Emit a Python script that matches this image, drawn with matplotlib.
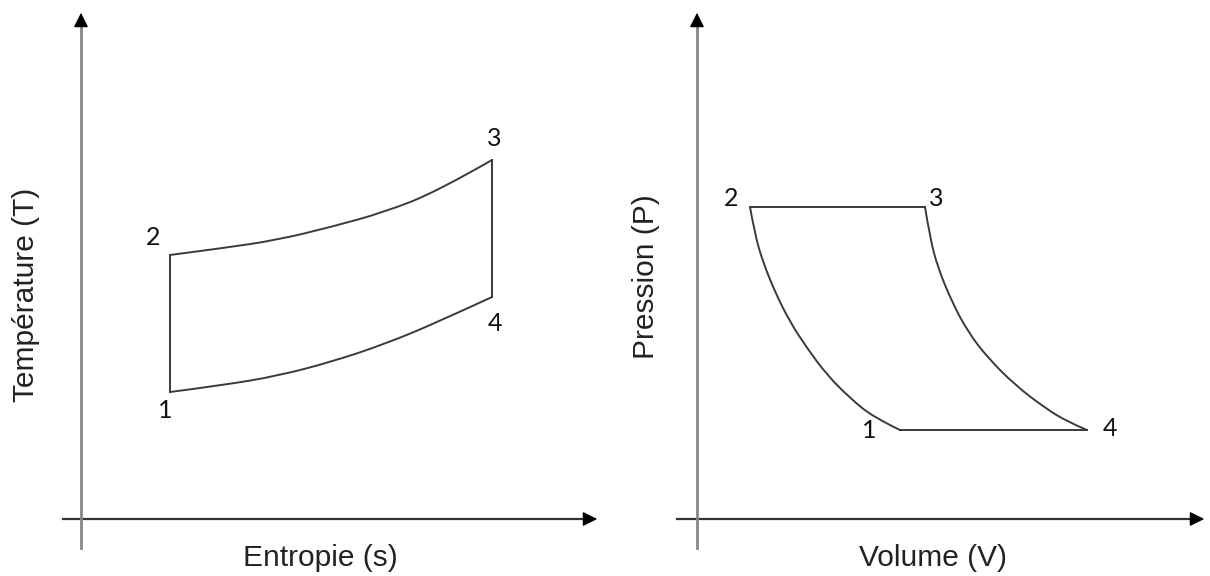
import matplotlib
matplotlib.use("Agg")
import matplotlib.pyplot as plt
from matplotlib.path import Path
from matplotlib.patches import PathPatch

# T-s diagram (arbitrary units)
s_pts = [0.89, 1.43, 1.96, 2.50, 3.04, 3.57, 4.11]
T_top = [2.64, 2.71, 2.79, 2.92, 3.07, 3.28, 3.59]   # 2 -> 3
T_bot = [1.27, 1.34, 1.43, 1.57, 1.75, 1.97, 2.22]   # 1 -> 4

# P-V diagram
V_21 = [0.53, 0.58, 0.66, 0.78, 0.93, 1.10, 1.30, 1.53, 1.76, 2.03]
P_21 = [3.12, 2.84, 2.57, 2.27, 1.97, 1.71, 1.44, 1.21, 1.02, 0.89]
V_34 = [2.28, 2.33, 2.41, 2.55, 2.71, 2.91, 3.18, 3.48, 3.71, 3.90]
P_34 = [3.12, 2.81, 2.51, 2.17, 1.87, 1.61, 1.34, 1.11, 0.97, 0.89]

point_names = ["1", "2", "3", "4"]
ts_label_pos = [(0.84, 1.08), (0.72, 2.82), (4.13, 3.81), (4.14, 1.96)]
pv_label_pos = [(1.72, 0.88), (0.34, 3.21), (2.39, 3.21), (4.13, 0.90)]

line_col = '#3a3a3a'
num_font = 'Lato'
lab_font = 'Liberation Sans'

fig = plt.figure(figsize=(12.1, 5.76), dpi=100)
fig.patch.set_facecolor('white')

ax1 = fig.add_axes([0, 0, 0.5, 1])
ax2 = fig.add_axes([0.5, 0, 0.5, 1])
ax1.set_xlim(-0.81, 5.24)
ax2.set_xlim(-0.92, 5.13)
for ax in (ax1, ax2):
    ax.set_ylim(-0.57, 5.19)
    ax.axis('off')


def draw_axes(ax, xmin, xtip, ymin, ytip):
    ax.plot([xmin, xtip - 0.1], [0, 0], color='#333333', lw=1.6, clip_on=False)
    ax.plot([0, 0], [ymin, ytip - 0.1], color='#888888', lw=2.0, clip_on=False)
    ax.annotate('', xy=(xtip, 0), xytext=(xtip - 0.14, 0),
                arrowprops=dict(arrowstyle='-|>', color='black', lw=1.0, mutation_scale=22),
                annotation_clip=False)
    ax.annotate('', xy=(0, ytip), xytext=(0, ytip - 0.14),
                arrowprops=dict(arrowstyle='-|>', color='black', lw=1.0, mutation_scale=22),
                annotation_clip=False)


def smooth_curve(ax, xs, ys):
    # quadratic B-spline through the read points, drawn as a bezier path
    pts = list(zip(xs, ys))
    verts = [pts[0]]
    codes = [Path.MOVETO]
    for i in range(1, len(pts) - 1):
        nxt = pts[i + 1] if i + 1 == len(pts) - 1 else \
            ((pts[i][0] + pts[i + 1][0]) / 2, (pts[i][1] + pts[i + 1][1]) / 2)
        verts += [pts[i], nxt]
        codes += [Path.CURVE3, Path.CURVE3]
    ax.add_patch(PathPatch(Path(verts, codes), fill=False, edgecolor=line_col,
                           lw=1.4, capstyle='round', joinstyle='round'))


draw_axes(ax1, -0.18, 5.19, -0.29, 5.09)
draw_axes(ax2, -0.20, 5.10, -0.29, 5.09)

# T-s cycle
smooth_curve(ax1, s_pts, T_top)
smooth_curve(ax1, s_pts, T_bot)
ax1.plot([s_pts[0], s_pts[0]], [T_bot[0], T_top[0]], color=line_col, lw=1.4)
ax1.plot([s_pts[-1], s_pts[-1]], [T_bot[-1], T_top[-1]], color=line_col, lw=1.4)

# P-V cycle
smooth_curve(ax2, V_21, P_21)
smooth_curve(ax2, V_34, P_34)
ax2.plot([V_21[0], V_34[0]], [P_21[0], P_34[0]], color=line_col, lw=1.4)
ax2.plot([V_21[-1], V_34[-1]], [P_21[-1], P_34[-1]], color=line_col, lw=1.4)

for name, (x, y) in zip(point_names, ts_label_pos):
    ax1.text(x, y, name, fontsize=18, family=num_font, color='#111111',
             ha='center', va='center')
for name, (x, y) in zip(point_names, pv_label_pos):
    ax2.text(x, y, name, fontsize=18, family=num_font, color='#111111',
             ha='center', va='center')

fig.text(320 / 1210, 1 - 558 / 576, "Entropie (s)", fontsize=21.5, family=lab_font,
         color='#222222', ha='center', va='center')
fig.text(933 / 1210, 1 - 558 / 576, "Volume (V)", fontsize=21.5, family=lab_font,
         color='#222222', ha='center', va='center')
fig.text(26 / 1210, 1 - 295 / 576, "Température (T)", fontsize=21.5, family=lab_font,
         color='#222222', ha='center', va='center', rotation=90)
fig.text(646 / 1210, 1 - 277 / 576, "Pression (P)", fontsize=21.5, family=lab_font,
         color='#222222', ha='center', va='center', rotation=90)

fig.savefig('out.png', dpi=100, facecolor='white')
